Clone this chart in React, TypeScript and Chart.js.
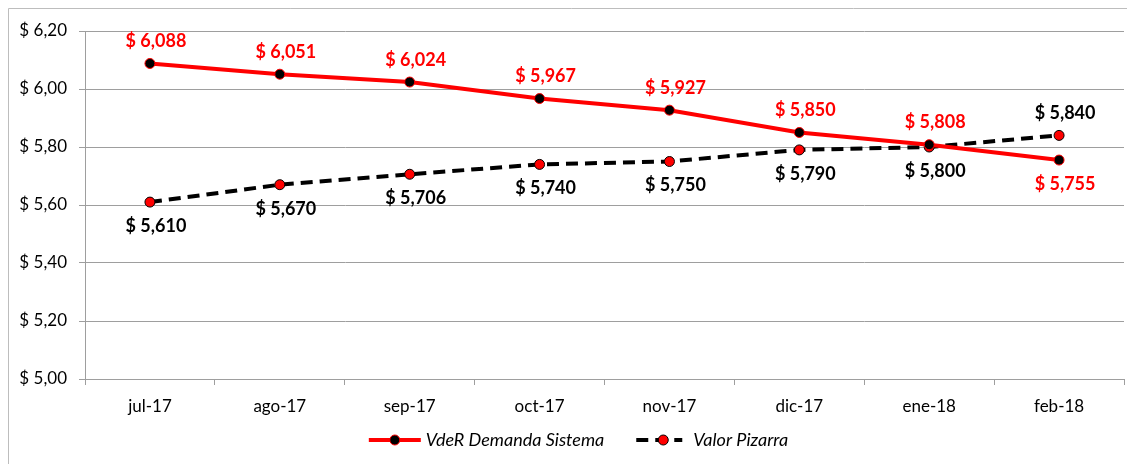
import React, { useEffect, useRef } from "react";
import { Chart, registerables } from "chart.js";

Chart.register(...registerables);

const categories = ["jul-17", "ago-17", "sep-17", "oct-17", "nov-17", "dic-17", "ene-18", "feb-18"];
const vdeRValues = [6.088, 6.051, 6.024, 5.967, 5.927, 5.85, 5.808, 5.755];
const pizarraValues = [5.61, 5.67, 5.706, 5.74, 5.75, 5.79, 5.8, 5.84];
const seriesNames = ["VdeR Demanda Sistema", "Valor Pizarra"];
// label placement: true = above point
const vdeRAbove = [true, true, true, true, true, true, true, false];
const pizarraAbove = [false, false, false, false, false, false, false, true];

const FONT = "Lato, 'Open Sans', sans-serif";

const fmtLabel = (v: number) => "$ " + v.toFixed(3).replace(".", ",");
const fmtTick = (v: number) => "$ " + v.toFixed(2).replace(".", ",");

const labelsPlugin = {
  id: "pointLabels",
  afterDatasetsDraw(chart: any) {
    const ctx = chart.ctx;
    ctx.save();
    ctx.font = `bold 18px ${FONT}`;
    ctx.textAlign = "center";
    ctx.textBaseline = "middle";
    chart.data.datasets.forEach((ds: any, di: number) => {
      const meta = chart.getDatasetMeta(di);
      const above = di === 0 ? vdeRAbove : pizarraAbove;
      ctx.fillStyle = di === 0 ? "#ff0000" : "#000000";
      meta.data.forEach((pt: any, i: number) => {
        const up = above[i];
        const y = up ? pt.y - 22 : pt.y + 24;
        ctx.fillText(fmtLabel(ds.data[i]), pt.x + 6, y);
      });
    });
    ctx.restore();
  },
};

const framePlugin = {
  id: "frameAndLegend",
  beforeDraw(chart: any) {
    const ctx = chart.ctx;
    ctx.save();
    ctx.strokeStyle = "#bdbdbd";
    ctx.lineWidth = 1;
    ctx.beginPath();
    ctx.moveTo(0.5, chart.height);
    ctx.lineTo(0.5, 0.5);
    ctx.lineTo(chart.width, 0.5);
    ctx.stroke();
    ctx.restore();
  },
  afterDraw(chart: any) {
    const ctx = chart.ctx;
    ctx.save();
    ctx.font = `italic 18px ${FONT}`;
    const lineLen = 52;
    const gapText = 5;
    const gapItems = 32;
    const w0 = ctx.measureText(seriesNames[0]).width;
    const w1 = ctx.measureText(seriesNames[1]).width;
    const len2 = lineLen - 6;
    const total = lineLen + gapText + w0 + gapItems + len2 + gapText + 6 + w1;
    let x = chart.width / 2 + 7 - total / 2;
    const y = 432;
    const ds = chart.data.datasets;
    // item 1
    ctx.strokeStyle = ds[0].borderColor;
    ctx.lineWidth = ds[0].borderWidth;
    ctx.setLineDash([]);
    ctx.beginPath();
    ctx.moveTo(x, y);
    ctx.lineTo(x + lineLen, y);
    ctx.stroke();
    ctx.beginPath();
    ctx.arc(x + lineLen / 2, y, 5, 0, Math.PI * 2);
    ctx.fillStyle = ds[0].pointBackgroundColor;
    ctx.fill();
    ctx.lineWidth = 1;
    ctx.strokeStyle = ds[0].pointBorderColor;
    ctx.stroke();
    ctx.fillStyle = "#000";
    ctx.textBaseline = "middle";
    ctx.textAlign = "left";
    ctx.fillText(seriesNames[0], x + lineLen + gapText, y);
    x += lineLen + gapText + w0 + gapItems;
    // item 2
    ctx.strokeStyle = ds[1].borderColor;
    ctx.lineWidth = ds[1].borderWidth;
    ctx.setLineDash(ds[1].borderDash);
    ctx.beginPath();
    ctx.moveTo(x, y);
    ctx.lineTo(x + len2, y);
    ctx.stroke();
    ctx.setLineDash([]);
    ctx.beginPath();
    ctx.arc(x + len2 / 2 + 4, y, 5, 0, Math.PI * 2);
    ctx.fillStyle = ds[1].pointBackgroundColor;
    ctx.fill();
    ctx.lineWidth = 1;
    ctx.strokeStyle = ds[1].pointBorderColor;
    ctx.stroke();
    ctx.fillStyle = "#000";
    ctx.fillText(seriesNames[1], x + len2 + gapText + 6, y);
    ctx.restore();
  },
};

export default function App() {
  const ref = useRef<HTMLCanvasElement>(null);
  useEffect(() => {
    document.documentElement.style.overflow = "hidden";
    const canvas = ref.current;
    if (!canvas) return;
    const chart = new Chart(canvas, {
      type: "line",
      data: {
        labels: categories,
        datasets: [
          {
            label: seriesNames[0],
            data: vdeRValues,
            borderColor: "#ff0000",
            borderWidth: 4,
            pointRadius: 5,
            pointBackgroundColor: "#000000",
            pointBorderColor: "#ff0000",
            pointBorderWidth: 1,
            tension: 0,
          },
          {
            label: seriesNames[1],
            data: pizarraValues,
            borderColor: "#000000",
            borderWidth: 4,
            borderDash: [12, 7],
            pointRadius: 5,
            pointBackgroundColor: "#ff0000",
            pointBorderColor: "#000000",
            pointBorderWidth: 1,
            tension: 0,
          },
        ],
      },
      options: {
        responsive: false,
        animation: false,
        devicePixelRatio: 1,
        layout: { padding: { left: 0, right: 11, top: 23, bottom: 35 } },
        plugins: {
          legend: { display: false },
          tooltip: { enabled: false },
        },
        scales: {
          x: {
            offset: true,
            grid: {
              offset: true,
              drawOnChartArea: false,
              drawTicks: true,
              tickLength: 6,
              color: "#9e9e9e",
            },
            border: { color: "#9e9e9e", width: 1 },
            ticks: {
              color: "#000",
              padding: 11,
              font: { family: FONT, size: 17 },
            },
            afterFit(scale: any) {
              scale.height = 50;
            },
          },
          y: {
            min: 5,
            max: 6.2,
            ticks: {
              stepSize: 0.2,
              color: "#000",
              padding: 12,
              font: { family: FONT, size: 17 },
              callback: (v: any) => fmtTick(Number(v)),
            },
            grid: { color: "#9e9e9e", tickLength: 6, lineWidth: 1 },
            border: { color: "#9e9e9e", width: 1 },
            afterFit(scale: any) {
              scale.width = 77;
            },
          },
        },
      },
      plugins: [labelsPlugin, framePlugin],
    });
    return () => chart.destroy();
  }, []);
  return <canvas ref={ref} width={1127} height={456} style={{ display: "block", width: 1127, height: 456 }} />;
}
